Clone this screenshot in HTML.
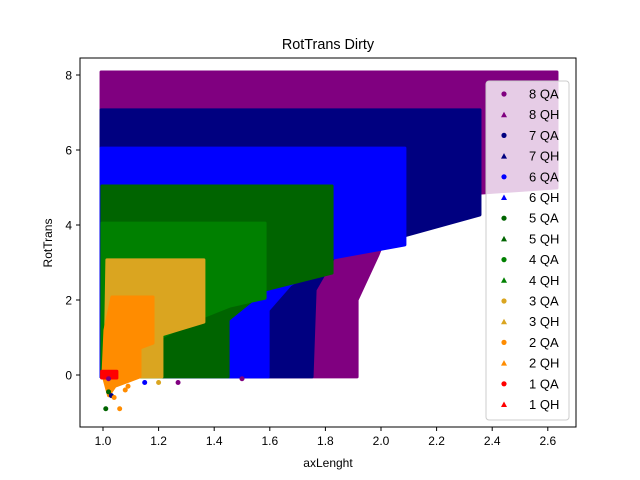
<!DOCTYPE html>
<html><head><meta charset="utf-8"><style>
body{margin:0;background:#fff;}
svg{display:block;font-family:"Liberation Sans","DejaVu Sans",sans-serif;}
</style></head><body>
<svg id="chart" width="640" height="480" viewBox="0 0 640 480">
<rect width="640" height="480" fill="#fff"/>
<g id="plot"></g>
<rect x="80" y="58" width="496" height="369" fill="none" stroke="#000" stroke-width="1"/>
<g id="axes"></g>
<text x="328" y="49" text-anchor="middle" font-size="14.4">RotTrans Dirty</text>
<text x="328" y="467" text-anchor="middle" font-size="12">axLenght</text>
<text x="0" y="0" transform="translate(52,243) rotate(-90)" text-anchor="middle" font-size="12">RotTrans</text>
<g id="legend"></g>
</svg>
<script>
const seriesNames = ["8","7","6","5","4","3","2","1"];
const seriesColors = ["purple","navy","blue","darkgreen","green","goldenrod","darkorange","red"];
const regionX = [
 [0.993,2.633,2.633,2.356,2.0,1.996,1.989,1.914,1.914,0.993],
 [0.993,2.356,2.356,1.835,1.763,1.752,0.993],
 [0.993,2.086,2.086,1.827,1.673,1.594,1.594,0.993],
 [0.996,1.824,1.824,1.583,1.45,1.45,0.996],
 [0.996,1.583,1.583,1.457,1.349,1.212,1.212,0.996],
 [1.014,1.363,1.363,1.212,1.212,1.007],
 [1.032,1.18,1.18,1.133,1.133,1.043,1.02,1.0,1.007],
 [0.995,1.05,1.05,0.995]
];
const regionY = [
 [8.08,8.08,4.99,4.85,3.6,3.33,3.2,2.0,-0.05,-0.05],
 [7.07,7.07,4.27,3.2,2.27,-0.05,-0.05],
 [6.05,6.05,3.47,3.12,2.4,1.73,-0.05,-0.05],
 [5.04,5.04,2.72,2.27,1.47,-0.05,-0.05],
 [4.05,4.05,2.05,1.84,1.52,1.01,-0.05,-0.05],
 [3.07,3.07,1.41,1.07,-0.05,-0.05],
 [2.08,2.08,0.85,0.72,-0.05,-0.3,-0.55,0.0,1.2],
 [0.1,0.1,-0.08,-0.08]
];
const outlierX = [1.02,1.03,1.01,1.06,1.08,1.15,1.27,1.09,1.5,1.2,1.02,1.04];
const outlierY = [-0.45,-0.55,-0.9,-0.9,-0.4,-0.2,-0.2,-0.3,-0.1,-0.2,-0.1,-0.6];
const outlierSeries = [3,1,3,6,6,2,0,6,0,5,0,6];
const xTicks = [1.0,1.2,1.4,1.6,1.8,2.0,2.2,2.4,2.6];
const yTicks = [0,2,4,6,8];
const xs = v => 103 + (v - 1) * 278;
const ys = v => 375 - v * 37.5;
const NS = "http://www.w3.org/2000/svg";
const plot = document.getElementById('plot');
regionX.forEach((rx, i) => {
  const p = document.createElementNS(NS, 'polygon');
  p.setAttribute('points', rx.map((x, j) => xs(x) + ',' + ys(regionY[i][j])).join(' '));
  p.setAttribute('fill', seriesColors[i]);
  p.setAttribute('stroke', seriesColors[i]);
  p.setAttribute('stroke-width', '3');
  p.setAttribute('stroke-linejoin', 'round');
  
  
  plot.appendChild(p);
});
outlierX.forEach((x, i) => {
  const c = document.createElementNS(NS, 'circle');
  c.setAttribute('cx', xs(x)); c.setAttribute('cy', ys(outlierY[i])); c.setAttribute('r', 2.5);
  c.setAttribute('fill', seriesColors[outlierSeries[i]]);
  
  
  plot.appendChild(c);
});
const axes = document.getElementById('axes');
xTicks.forEach(t => {
  const l = document.createElementNS(NS, 'line');
  l.setAttribute('x1', xs(t)); l.setAttribute('x2', xs(t)); l.setAttribute('y1', 427); l.setAttribute('y2', 431);
  l.setAttribute('stroke', '#000');
  
  
  axes.appendChild(l);
  const tx = document.createElementNS(NS, 'text');
  tx.setAttribute('x', xs(t)); tx.setAttribute('y', 445); tx.setAttribute('text-anchor', 'middle'); tx.setAttribute('font-size', '12');
  tx.textContent = t.toFixed(1);
  
  
  axes.appendChild(tx);
});
yTicks.forEach(t => {
  const l = document.createElementNS(NS, 'line');
  l.setAttribute('x1', 76); l.setAttribute('x2', 80); l.setAttribute('y1', ys(t)); l.setAttribute('y2', ys(t));
  l.setAttribute('stroke', '#000');
  
  
  axes.appendChild(l);
  const tx = document.createElementNS(NS, 'text');
  tx.setAttribute('x', 72); tx.setAttribute('y', ys(t) + 4.5); tx.setAttribute('text-anchor', 'end'); tx.setAttribute('font-size', '12');
  tx.textContent = String(t);
  
  
  axes.appendChild(tx);
});
const legend = document.getElementById('legend');
const box = document.createElementNS(NS, 'rect');
box.setAttribute('x', 486); box.setAttribute('y', 81); box.setAttribute('width', 83); box.setAttribute('height', 339);
box.setAttribute('rx', 3); box.setAttribute('fill', 'rgba(255,255,255,0.8)'); box.setAttribute('stroke', '#ccc');


legend.appendChild(box);
let k = 0;
seriesNames.forEach((n, i) => {
  ['QA', 'QH'].forEach(kind => {
    const y = 94 + k * 20.7;
    let m;
    if (kind === 'QA') {
      m = document.createElementNS(NS, 'circle');
      m.setAttribute('cx', 504); m.setAttribute('cy', y); m.setAttribute('r', 2.6);
    } else {
      m = document.createElementNS(NS, 'polygon');
      m.setAttribute('points', `504,${y-3} 507,${y+2.5} 501,${y+2.5}`);
    }
    m.setAttribute('fill', seriesColors[i]);
    
    
    legend.appendChild(m);
    const t = document.createElementNS(NS, 'text');
    t.setAttribute('x', 529); t.setAttribute('y', y + 4.5); t.setAttribute('font-size', '13');
    t.textContent = n + ' ' + kind;
    
    
    legend.appendChild(t);
    k++;
  });
});
</script>
</body></html>
